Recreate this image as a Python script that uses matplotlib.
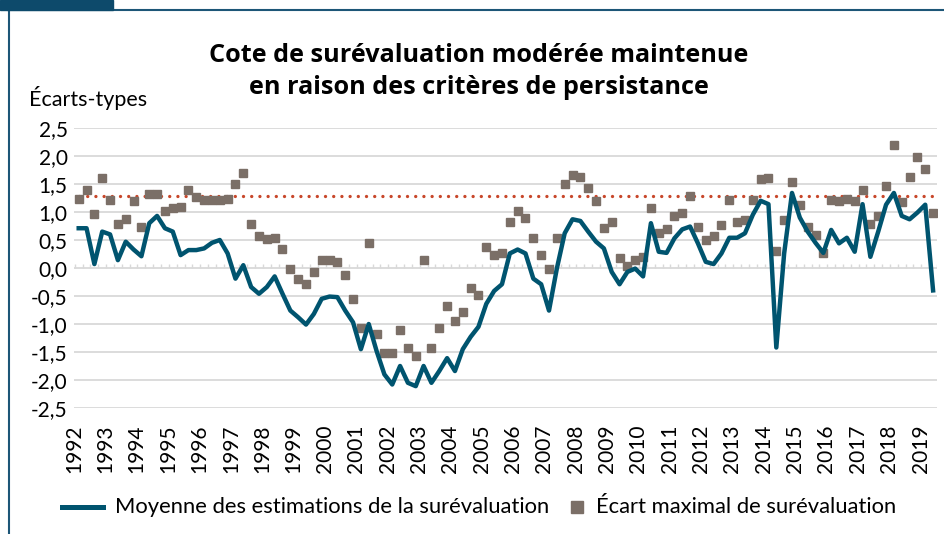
# -*- coding: utf-8 -*-
import matplotlib
matplotlib.use("Agg")
import matplotlib.pyplot as plt
from matplotlib.patches import Rectangle
from matplotlib.lines import Line2D
import numpy as np

plt.rcParams['font.family'] = ['Lato', 'DejaVu Sans']

# ---DATA--- (quarterly, 1992Q1 .. 2019Q2)
years = list(range(1992, 2020))

moyenne = [0.71, 0.71, 0.07, 0.65, 0.60, 0.14, 0.47, 0.33, 0.21, 0.80,
           0.93, 0.71, 0.65, 0.23, 0.32, 0.32, 0.35, 0.45, 0.50, 0.26,
           -0.19, 0.05, -0.34, -0.46, -0.34, -0.15, -0.46, -0.76, -0.88, -1.01,
           -0.82, -0.55, -0.51, -0.52, -0.76, -0.97, -1.45, -1.00, -1.48, -1.90,
           -2.08, -1.75, -2.05, -2.11, -1.75, -2.05, -1.84, -1.61, -1.84, -1.45,
           -1.23, -1.05, -0.64, -0.41, -0.29, 0.26, 0.33, 0.26, -0.19, -0.29,
           -0.76, -0.01, 0.62, 0.87, 0.84, 0.65, 0.47, 0.35, -0.07, -0.29,
           -0.07, -0.01, -0.15, 0.80, 0.29, 0.27, 0.53, 0.69, 0.74, 0.44,
           0.11, 0.07, 0.26, 0.54, 0.54, 0.62, 0.95, 1.20, 1.14, -1.42,
           0.26, 1.34, 0.90, 0.65, 0.45, 0.27, 0.68, 0.44, 0.54, 0.29,
           1.14, 0.20, 0.65, 1.13, 1.34, 0.93, 0.87, 0.99, 1.13, -0.40]

ecart_max = [1.23, 1.40, 0.97, 1.60, 1.22, 0.79, 0.87, 1.19, 0.74, 1.33,
             1.33, 1.02, 1.07, 1.09, 1.40, 1.26, 1.22, 1.22, 1.22, 1.23,
             1.50, 1.69, 0.79, 0.57, 0.51, 0.54, 0.34, -0.01, -0.19, -0.28,
             -0.08, 0.15, 0.15, 0.11, -0.12, -0.55, -1.07, 0.44, -1.18, -1.51,
             -1.51, -1.11, -1.42, -1.58, 0.15, -1.42, -1.08, -0.68, -0.95, -0.79,
             -0.36, -0.49, 0.38, 0.23, 0.27, 0.83, 1.02, 0.90, 0.54, 0.23,
             -0.02, 0.54, 1.50, 1.66, 1.62, 1.43, 1.19, 0.71, 0.83, 0.18,
             0.04, 0.15, 0.20, 1.07, 0.63, 0.70, 0.93, 0.99, 1.29, 0.74,
             0.50, 0.57, 0.77, 1.22, 0.83, 0.86, 1.22, 1.59, 1.61, 0.31,
             0.86, 1.53, 1.13, 0.74, 0.59, 0.27, 1.22, 1.19, 1.23, 1.19,
             1.40, 0.78, 0.93, 1.46, 2.19, 1.17, 1.62, 1.99, 1.77, 0.99]

seuil = 1.28

line_col = '#00546f'
sq_col = '#7b6f67'

# ---PLOT---
n = len(moyenne)
x = np.arange(n)

fig = plt.figure(figsize=(9.44, 5.34), dpi=100)
ax = fig.add_axes([74/944., 1-408/534., (937-74)/944., (408-128)/534.])

grey = '#d9d9d9'
for v in np.arange(-2.5, 2.51, 0.5):
    ax.axhline(v, color=grey, lw=1.3, zorder=0)
# small category ticks on the zero line
ax.vlines(np.arange(-0.5, n, 1), 0, 0.07, color=grey, lw=1.0, zorder=0)

ax.plot(x, [seuil]*n, color='#c8472a', lw=2.4, linestyle=(0, (0.01, 2.45)),
        dash_capstyle='round', zorder=2)
ax.plot(x, ecart_max, linestyle='none', marker='s', markersize=5.6,
        color=sq_col, zorder=3)
ax.plot(x, moyenne, color=line_col, lw=3.2, solid_joinstyle='round', zorder=4)

ax.set_xlim(-0.5, n-0.5)
ax.set_ylim(-2.5, 2.5)
for s in ax.spines.values():
    s.set_visible(False)

yt = np.arange(-2.5, 2.51, 0.5)
ax.set_yticks(yt)
ax.set_yticklabels([("%.1f" % v).replace('.', ',') for v in yt], fontsize=15)
ax.set_xticks(np.arange(0, n, 4) - 0.6)
ax.set_xticklabels([str(y) for y in years], rotation=90, fontsize=15)
ax.tick_params(length=0)
ax.tick_params(axis='y', pad=4.5)
ax.tick_params(axis='x', pad=12)

tfont = dict(family=['Open Sans', 'DejaVu Sans'], fontsize=18.2, fontweight='bold')
fig.text(479/944., 1-55/534., u"Cote de surévaluation modérée maintenue",
         ha='center', va='center', **tfont)
fig.text(479/944., 1-88/534., u"en raison des critères de persistance",
         ha='center', va='center', **tfont)
fig.text(29/944., 1-98/534., u"Écarts-types", ha='left', va='center', fontsize=15.5)

# legend, drawn by hand to keep the reference spacing
ly = 1-507/534.
fig.lines.append(Line2D([62/944., 103/944.], [ly, ly], transform=fig.transFigure,
                        color=line_col, lw=3.6))
fig.text(115/944., ly, "Moyenne des estimations de la surévaluation",
         ha='left', va='center', fontsize=15.8)
fig.lines.append(Line2D([577/944.], [ly], transform=fig.transFigure,
                        color=sq_col, marker='s', markersize=8.5, linestyle='none'))
fig.text(596/944., ly, u"Écart maximal de surévaluation",
         ha='left', va='center', fontsize=15.8)

# frame
fig.patches.append(Rectangle((0, 1-10/534.), 113/944., 10/534., transform=fig.transFigure,
                             color='#0d4a6b', zorder=5))
fig.lines.append(Line2D([8/944., 1], [1-10/534., 1-10/534.], transform=fig.transFigure,
                        color='#1d5677', lw=1.5))
fig.lines.append(Line2D([8.5/944., 8.5/944.], [0, 1-10/534.], transform=fig.transFigure,
                        color='#1d5677', lw=1.5))

fig.savefig('out.png', dpi=100)
